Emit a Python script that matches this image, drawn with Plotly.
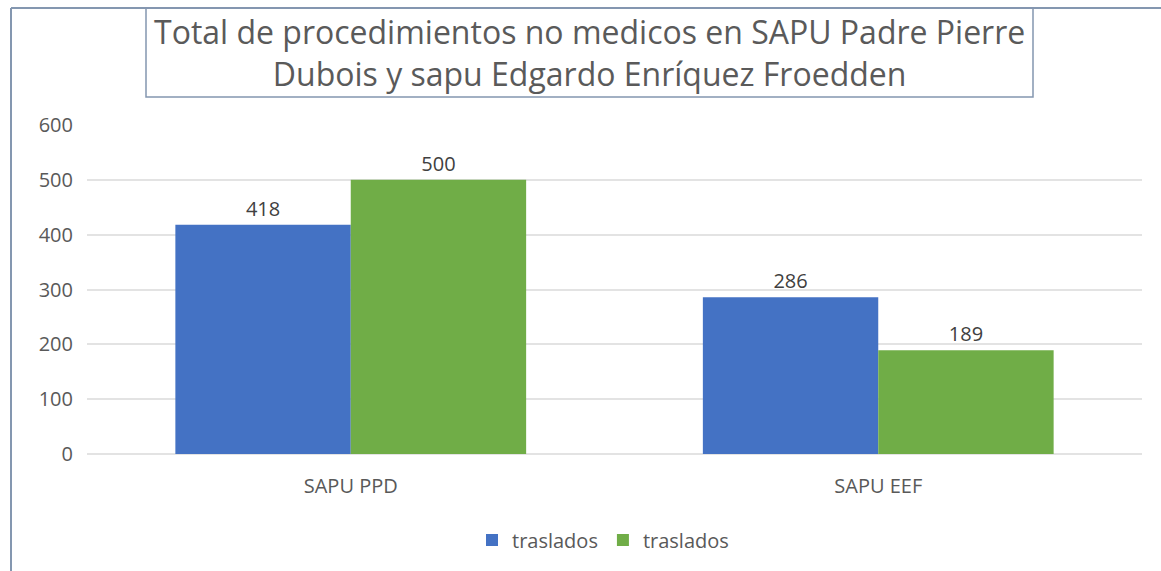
import plotly.graph_objects as go

categories = ["SAPU PPD", "SAPU EEF"]
series_names = ["traslados", "traslados"]
values_a = [418, 286]
values_b = [500, 189]
colors = ["#4472C4", "#70AD47"]
y_ticks = [0, 100, 200, 300, 400, 500, 600]

FONT = "Open Sans"
L, R, T, B = 87, 19, 125, 117
W, H = 1161, 571
pw = W - L - R
ph = H - T - B

def px_x(p):
    return (p - L) / pw

def px_y(p):
    return (H - B - p) / ph

fig = go.Figure()
for name, vals, col in zip(series_names, [values_a, values_b], colors):
    fig.add_trace(go.Bar(
        x=categories, y=vals, name=name, marker=dict(color=col, line=dict(width=0)),
        text=[str(v) for v in vals], textposition="outside", cliponaxis=False,
        textfont=dict(family=FONT, size=20, color="#404040"),
    ))

fig.update_layout(
    width=W, height=H,
    margin=dict(l=L, r=R, t=T, b=B),
    paper_bgcolor="white", plot_bgcolor="white",
    barmode="group", bargap=0.335, bargroupgap=0,
    font=dict(family=FONT, color="#595959"),
    xaxis=dict(showgrid=False, showline=False, ticks="", ticklabelstandoff=18,
               tickfont=dict(family=FONT, size=20, color="#595959")),
    yaxis=dict(range=[0, 600], tickvals=y_ticks, showgrid=True, gridcolor="#E3E3E3",
               gridwidth=2, zeroline=True, zerolinecolor="#E3E3E3", zerolinewidth=2,
               showline=False, ticks="", ticklabelstandoff=13,
               tickfont=dict(family=FONT, size=20, color="#595959")),
    showlegend=True,
    legend=dict(orientation="h", x=px_x(603), xanchor="center", y=px_y(540), yanchor="middle",
                font=dict(family=FONT, size=20, color="#595959"), itemwidth=30,
                traceorder="normal"),
)

# outer frame (left and top edges visible)
fig.add_shape(type="line", xref="paper", yref="paper",
              x0=px_x(11), x1=px_x(11), y0=px_y(8), y1=px_y(575),
              line=dict(color="#8497B0", width=2))
fig.add_shape(type="line", xref="paper", yref="paper",
              x0=px_x(11), x1=px_x(1165), y0=px_y(8), y1=px_y(8),
              line=dict(color="#8497B0", width=2))
# title box
fig.add_shape(type="rect", xref="paper", yref="paper",
              x0=px_x(146), x1=px_x(1033), y0=px_y(97), y1=px_y(8),
              line=dict(color="#8497B0", width=1.5), fillcolor="rgba(0,0,0,0)")

fig.add_annotation(
    xref="paper", yref="paper", x=px_x(589.5), y=px_y(53), xanchor="center", yanchor="middle",
    text="Total de procedimientos no medicos en SAPU Padre Pierre<br>Dubois y sapu Edgardo Enríquez Froedden",
    showarrow=False, font=dict(family=FONT, size=32, color="#5A5A5A"), align="center",
)

fig.write_html("out.html", config={"displayModeBar": False},
               post_script="document.body.style.margin='0';")
